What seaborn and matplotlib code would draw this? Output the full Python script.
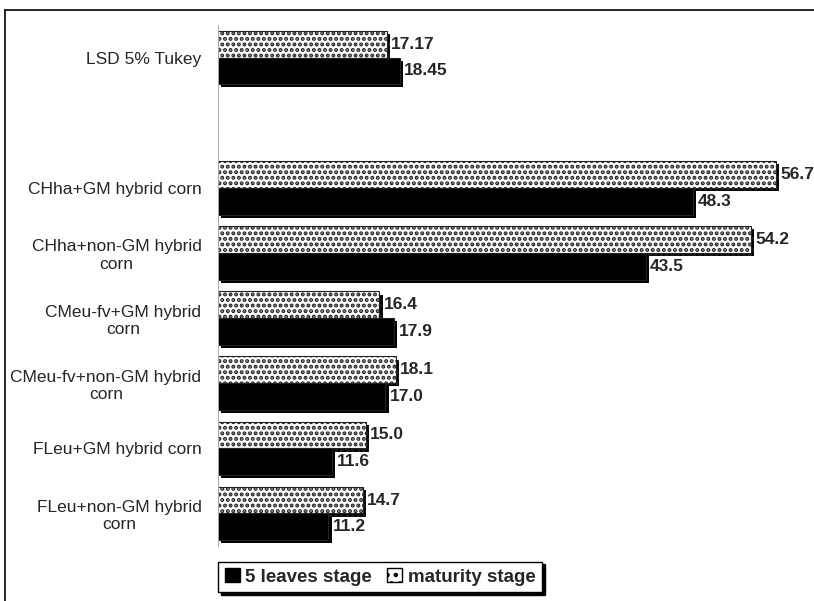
import matplotlib
matplotlib.use("Agg")
import matplotlib.pyplot as plt
import matplotlib.patheffects as pe
from matplotlib.lines import Line2D
from matplotlib.patches import Patch
import pandas as pd
import seaborn as sns
import numpy as np

categories = ["LSD 5% Tukey", " ", "CHha+GM hybrid corn", "CHha+non-GM hybrid\ncorn",
              "CMeu-fv+GM hybrid\ncorn", "CMeu-fv+non-GM hybrid\ncorn",
              "FLeu+GM hybrid corn", "FLeu+non-GM hybrid\ncorn"]
maturity = [17.17, np.nan, 56.7, 54.2, 16.4, 18.1, 15.0, 14.7]
leaves5 = [18.45, np.nan, 48.3, 43.5, 17.9, 17.0, 11.6, 11.2]
maturity_txt = ["17.17", "", "56.7", "54.2", "16.4", "18.1", "15.0", "14.7"]
leaves5_txt = ["18.45", "", "48.3", "43.5", "17.9", "17.0", "11.6", "11.2"]
series = ["maturity stage", "5 leaves stage"]

df = pd.DataFrame({
    "category": categories * 2,
    "value": maturity + leaves5,
    "stage": [series[0]] * len(categories) + [series[1]] * len(categories),
})
df = df.dropna()

sns.set_style("white")
plt.rcParams["font.family"] = ["Liberation Sans", "DejaVu Sans"]
plt.rcParams["hatch.linewidth"] = 2.0
plt.rcParams["hatch.color"] = "black"

fig = plt.figure(figsize=(8.14, 6.01), dpi=100)
ax = fig.add_axes([0.268, 0.0915, 0.725, 0.8669])

sns.barplot(data=df, y="category", x="value", hue="stage", order=categories,
            hue_order=series, palette={"maturity stage": "white", "5 leaves stage": "black"},
            orient="h", width=0.82, ax=ax, legend=False, saturation=1)

shadow = [pe.SimplePatchShadow(offset=(2.3, -2.3), shadow_rgbFace="black", alpha=1.0), pe.Normal()]
for cont, txt in zip(ax.containers, [maturity_txt, leaves5_txt]):
    labels = []
    for bar in cont:
        bar.set_path_effects(shadow)
        bar.set_edgecolor("#222222")
        bar.set_linewidth(0.8)
        if cont is ax.containers[0]:
            bar.set_hatch("...")
        idx = int(round(bar.get_y() + bar.get_height() / 2))
        labels.append(txt[idx])
    ax.bar_label(cont, labels=labels, padding=3, fontsize=12.5, fontweight="bold")

ax.set_xlim(0, 60)
ax.set_xlabel("")
ax.set_ylabel("")
ax.set_xticks([])
ax.tick_params(axis="y", length=0, pad=12, labelsize=12.5)
for lbl in ax.get_yticklabels():
    lbl.set_multialignment("center")
for s in ["top", "right", "bottom"]:
    ax.spines[s].set_visible(False)
ax.spines["left"].set_color("#aaaaaa")
ax.spines["left"].set_linewidth(0.7)

handles = [Patch(facecolor="black", edgecolor="black"),
           Patch(facecolor="white", edgecolor="black", hatch="..")]
fig.legend(handles, ["5 leaves stage", "maturity stage"], loc="center",
           bbox_to_anchor=(0.467, 0.04), ncol=2, frameon=True, fancybox=False,
           edgecolor="black", framealpha=1, shadow={"color": "black", "alpha": 1},
           handlelength=0.8, handleheight=0.8, handletextpad=0.3, columnspacing=0.8,
           borderpad=0.35, prop={"weight": "bold", "size": 13.5})

# outer frame (top and left only)
fig.add_artist(Line2D([0.006, 1.0], [0.9834, 0.9834], color="black", lw=1.2))
fig.add_artist(Line2D([0.006, 0.006], [0.0, 0.9834], color="black", lw=1.2))

fig.savefig("out.png", dpi=100)
